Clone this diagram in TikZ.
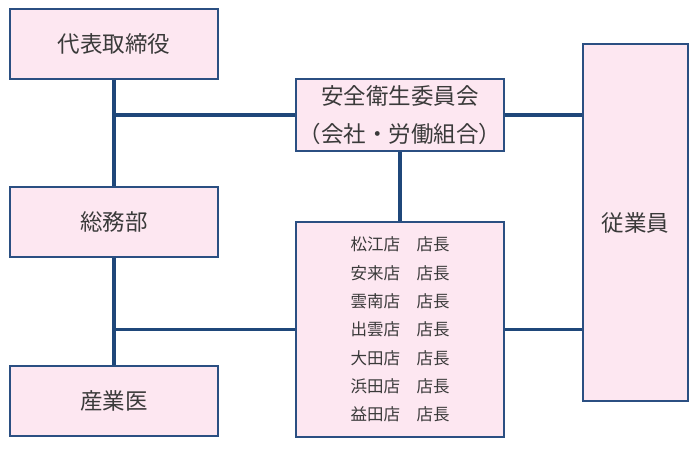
\documentclass[tikz,border=0pt]{standalone}
\usepackage{fontspec}
\setmainfont{Noto Sans CJK JP}
\usepackage{tikz}
\usetikzlibrary{calc}
\definecolor{boxfill}{HTML}{FDE7F1}
\definecolor{boxline}{HTML}{2B4F82}
\definecolor{linkline}{HTML}{1F477A}
\definecolor{txt}{HTML}{3A3A3A}

\begin{document}
\begin{tikzpicture}[x=1pt, y=-1pt,
    box/.style={draw=boxline, line width=1.8pt, fill=boxfill, text=txt,
      inner sep=0pt, font=\fontsize{22.5}{38.5}\selectfont, align=center},
    link/.style={draw=linkline, line width=3.6pt}]
      \useasboundingbox (0, 0) rectangle (700, 448);
      \node[box, minimum width=208pt, minimum height=70pt] (ceo) at (114, 44) {代表取締役};
      \node[box, minimum width=208pt, minimum height=70pt] (soumu) at (114, 222) {総務部};
      \node[box, minimum width=208pt, minimum height=70pt] (doctor) at (114, 401) {産業医};
      \node[box, minimum width=208pt, minimum height=72pt] (iinkai) at (400, 115) {安全衛生委員会\\（会社・労働組合）};
      \node[box, minimum width=208pt, minimum height=215pt,
        font=\fontsize{16.5}{28.3}\selectfont] (tencho) at (400, 329.5)
        {松江店　店長\\安来店　店長\\雲南店　店長\\出雲店　店長\\大田店　店長\\浜田店　店長\\益田店　店長};
      \node[box, minimum width=105pt, minimum height=357pt] (staff) at (635.5, 222.5) {従業員};
      \path[link] (ceo) -- (soumu);
      \path[link] (soumu) -- (doctor);
      \path[link] (ceo.south |- iinkai.west) -- (iinkai.west);
      \path[link] (iinkai.east) -- (iinkai.east -| staff.west);
      \path[link] (iinkai) -- (tencho);
      \path[link] (soumu.south |- tencho.west) -- (tencho.west);
      \path[link] (tencho.east) -- (tencho.east -| staff.west);
    \end{tikzpicture}
\end{document}
